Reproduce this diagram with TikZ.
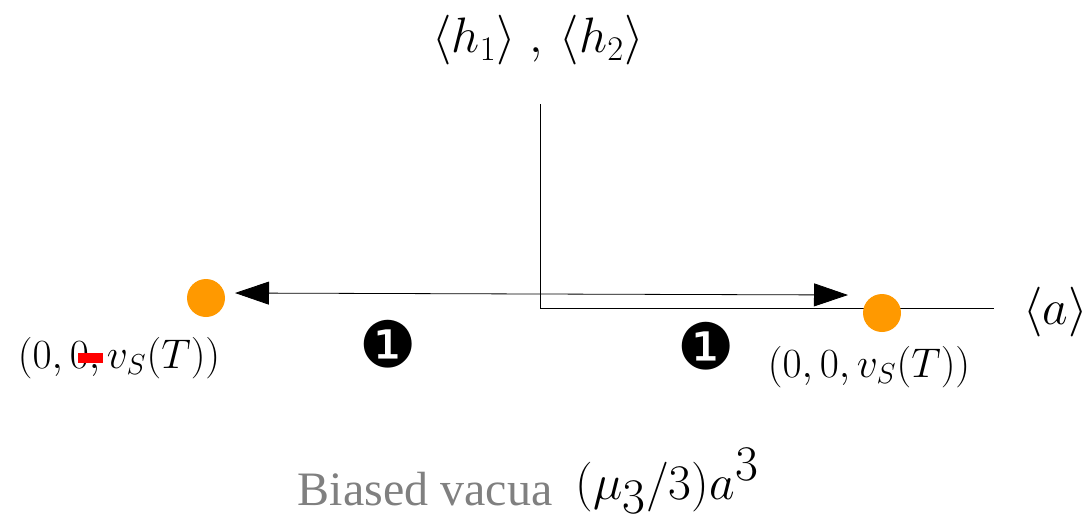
\documentclass[tikz,border=0pt]{standalone}
\usepackage{fontspec}
\usetikzlibrary{arrows.meta,positioning}
\newfontfamily\dingfont{DejaVu Sans}
\newfontfamily\timesfont{Liberation Serif}
\definecolor{vacorange}{HTML}{FF9900}
\definecolor{biasgray}{HTML}{808080}

\begin{document}
\begin{tikzpicture}[
        x=0.5pt, y=-0.5pt,
        axis/.style={
          line width=0.5pt
        },
        vac/.style={
          circle,
          fill=vacorange,
          minimum size=19pt,
          inner sep=0pt
        },
        vaclabel/.style={
          font=\fontsize{19.5}{22}\selectfont,
          inner sep=0pt
        },
        biglabel/.style={
          font=\fontsize{27}{30}\selectfont,
          inner sep=0pt
        },
        badge/.style={
          font=\dingfont\fontsize{32}{34}\selectfont,
          inner sep=0pt
        },
        arrow/.style={
          -{Triangle[length=17pt,width=11.5pt]},
          line width=0.4pt,
          black
        }
      ]
      \useasboundingbox (0,0) rectangle (1087,521);

      \coordinate (origin) at (540,308);
      \coordinate (ytop) at (540,104);
      \coordinate (xend) at (994,308);
      \draw[axis] (ytop) -- (origin) -- (xend);

      \node[biglabel] (hlab) at (538,40.5) {$\langle h_1\rangle\;,\,\langle h_2\rangle$};
      \node[biglabel, anchor=west] (alab) at (1023,312.5) {$\langle a\rangle$};

      \node[vac] (lvac) at (206,298) {};
      \node[vac] (rvac) at (882,313) {};

      \coordinate (start) at (540,294);
      \coordinate (ltip) at (235,293);
      \coordinate (rtip) at (848,295);
      \draw[arrow] (start) -- (ltip);
      \draw[arrow] (start) -- (rtip);

      \node[vaclabel] (llab) at (119,358) {$(0,0,v_S(T))$};
      \node[vaclabel] (rlab) at (869,367) {$(0,0,v_S(T))$};
      \fill[red] (78,353) rectangle (103,363);

      \node[badge] (lstep) at (388,344) {❶};
      \node[badge] (rstep) at (706,346) {❶};

      \node[font=\timesfont\fontsize{24}{26}\selectfont, text=biasgray,
        inner sep=0pt, anchor=base] (bias) at (425,505) {Biased vacua};
      \node[font=\fontsize{34}{38}\selectfont, inner sep=0pt,
        anchor=base west] (cubic) at (575,499) {$(\mu_3/3)a^3$};

      \end{tikzpicture}
\end{document}
